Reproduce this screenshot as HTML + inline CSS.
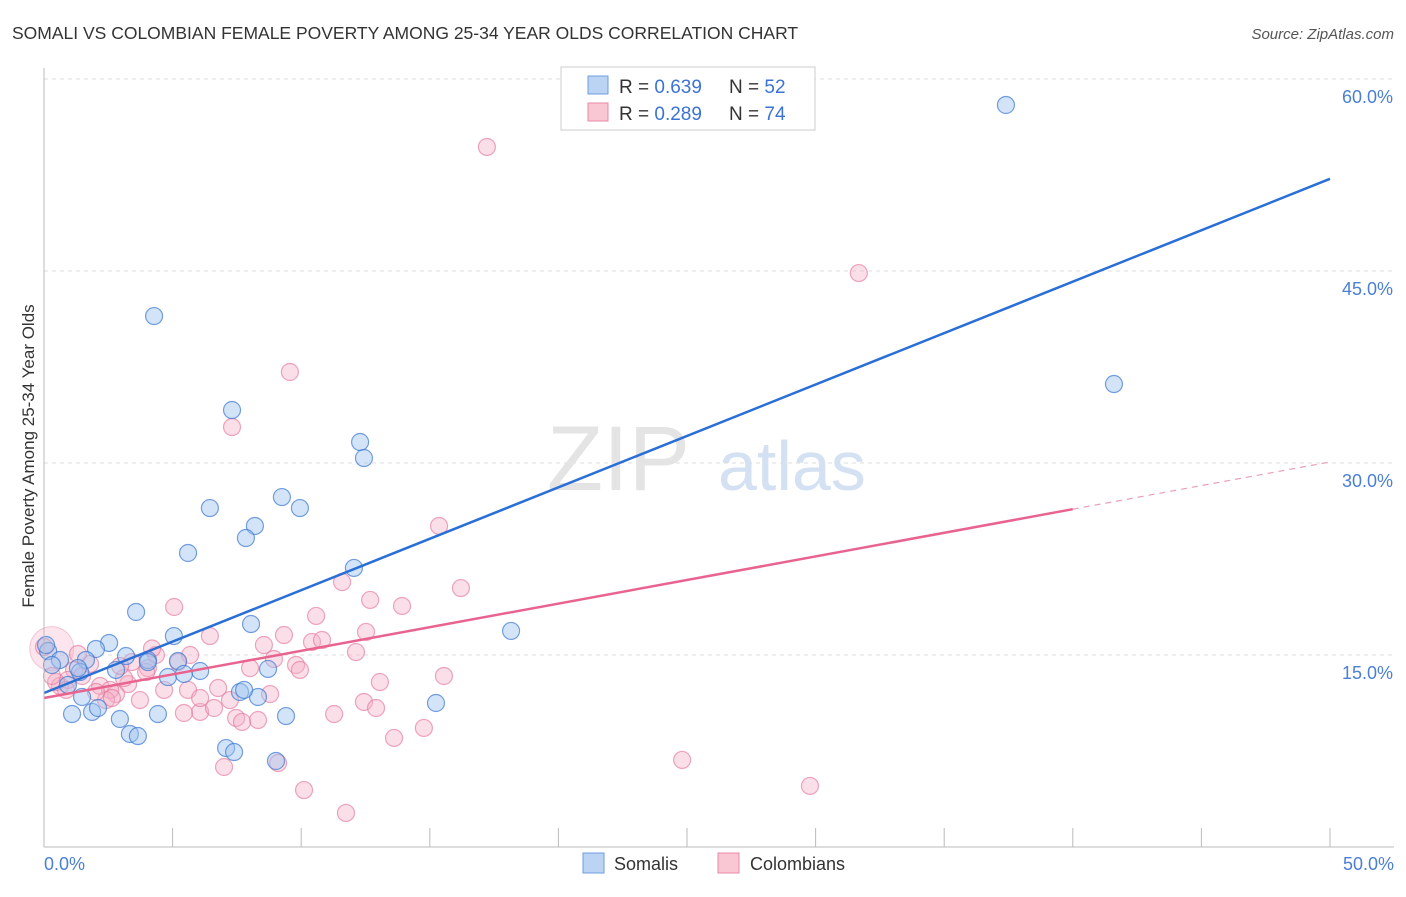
<!DOCTYPE html>
<html><head><meta charset="utf-8"><style>
body{margin:0;background:#fff;font-family:"Liberation Sans",sans-serif;}
svg text{font-family:"Liberation Sans",sans-serif;}
</style></head><body>
<svg id="chart" width="1406" height="892">
<text x="12" y="39" font-size="17.5" fill="#333">SOMALI VS COLOMBIAN FEMALE POVERTY AMONG 25-34 YEAR OLDS CORRELATION CHART</text>
<text x="1394" y="39" font-size="15" fill="#555" font-style="italic" text-anchor="end">Source: ZipAtlas.com</text>
<g id="grid"></g>
<text x="690" y="490" font-size="92" fill="#e4e4e4" text-anchor="end" font-family="Liberation Serif">ZIP</text>
<text x="718" y="490" font-size="70" fill="#d3e1f3">atlas</text>
<g id="marks"></g>
<line x1="44" y1="68" x2="44" y2="847" stroke="#bbb"/>
<line x1="44" y1="847" x2="1394" y2="847" stroke="#bbb"/>
<text transform="translate(34,456) rotate(-90)" font-size="17" fill="#333" text-anchor="middle">Female Poverty Among 25-34 Year Olds</text>
<text x="44" y="870" font-size="18" fill="#4a7fd6">0.0%</text>
<text x="1394" y="870" font-size="18" fill="#4a7fd6" text-anchor="end">50.0%</text>
<g>
<rect x="561" y="67" width="254" height="63" fill="#fff" stroke="#ccc"/>
<rect x="588" y="76" width="20" height="18" fill="#bcd4f4" stroke="#6c9de0"/>
<rect x="588" y="103" width="20" height="18" fill="#f9c6d4" stroke="#e989a6"/>
<text x="619" y="93" font-size="19" fill="#333">R = <tspan fill="#3b73d4">0.639</tspan></text>
<text x="729" y="93" font-size="19" fill="#333">N = <tspan fill="#3b73d4">52</tspan></text>
<text x="619" y="120" font-size="19" fill="#333">R = <tspan fill="#3b73d4">0.289</tspan></text>
<text x="729" y="120" font-size="19" fill="#333">N = <tspan fill="#3b73d4">74</tspan></text>
</g>
<g>
<rect x="583" y="853" width="21" height="20" fill="#bcd4f4" stroke="#6c9de0"/>
<text x="614" y="870" font-size="18" fill="#333">Somalis</text>
<rect x="718" y="853" width="21" height="20" fill="#f9c6d4" stroke="#e989a6"/>
<text x="750" y="870" font-size="18" fill="#333">Colombians</text>
</g>
</svg>
<script>
const yTicks=[15,30,45,60];
const yTickLabels=["15.0%","30.0%","45.0%","60.0%"];
const xTicks=[0,5,10,15,20,25,30,35,40,45,50];
const somaliX=[37.4,4.28,41.6,7.31,12.29,12.44,6.45,9.25,9.95,8.2,7.85,5.6,12.05,3.58,8.05,18.16,5.05,2.53,2.02,0.16,3.19,0.62,1.63,4.04,5.21,6.07,4.82,5.44,2.8,1.4,1.32,8.71,0.93,1.48,7.62,8.32,15.24,1.09,1.87,2.1,2.95,4.43,9.41,3.34,3.65,7.08,7.39,9.02,0.08,0.31,4.04,7.78];
const somaliY=[57.97,41.48,36.17,34.14,31.64,30.39,26.48,27.34,26.48,25.08,24.14,22.97,21.8,18.36,17.42,16.88,16.48,15.94,15.47,15.31,14.92,14.61,14.61,14.61,14.53,13.75,13.28,13.52,13.83,13.67,13.98,13.91,12.66,11.72,12.11,11.72,11.25,10.39,10.55,10.86,10.0,10.39,10.23,8.83,8.67,7.73,7.42,6.72,15.78,14.22,14.45,12.27];
const colX=[17.22,31.68,9.56,7.31,15.36,16.21,11.59,12.68,13.92,5.06,10.58,12.52,6.45,9.33,10.42,10.81,8.55,12.13,5.68,4.35,8.94,9.8,15.55,8.01,9.95,5.21,4.04,3.42,1.17,1.48,0.62,2.18,3.27,13.06,2.8,3.73,2.57,6.77,5.6,4.67,0.93,0.47,12.44,12.91,11.28,6.07,5.44,6.61,7.47,8.32,7.7,14.77,13.61,7.0,9.1,24.81,10.11,29.78,11.74,0,0.86,1.79,2.41,3.11,2.64,3.97,0.31,1.32,2.02,6.07,4.2,2.96,8.79,7.23];
const colY=[54.69,44.84,37.11,32.81,25.08,20.23,20.7,19.3,18.83,18.75,18.05,16.8,16.48,16.56,16.02,16.17,15.78,15.23,15.0,15.0,14.69,14.22,13.36,13.98,13.83,14.45,13.98,14.45,13.83,13.36,12.58,12.58,12.73,12.89,11.95,11.48,12.27,12.42,12.27,12.27,13.05,12.89,11.33,10.86,10.39,10.55,10.47,10.86,10.08,9.92,9.77,9.3,8.52,6.25,6.56,6.8,4.45,4.77,2.66,15.63,12.27,14.3,11.48,13.2,11.64,13.67,13.36,15.08,12.11,11.64,15.51,14.14,11.95,11.48];
const blueLine=[12.03,52.2];   // value at x=0 and x=50
const pinkLine=[11.64,30.08];
const pinkSolidEnd=40;
const NS="http://www.w3.org/2000/svg";
const X=v=>44+v*25.72, Y=v=>847-v*12.8;
function mk(t,a,p){const e=document.createElementNS(NS,t);for(const k in a)e.setAttribute(k,a[k]);p.appendChild(e);return e;}
const grid=document.getElementById('grid'),marks=document.getElementById('marks');
yTicks.forEach((v,i)=>{
 const l=mk('line',{x1:44,x2:1394,y1:Y(v),y2:Y(v),stroke:'#ddd','stroke-dasharray':'4,4'},grid);
 
 
 const t=mk('text',{x:1393,y:Y(v)+24,'font-size':18,fill:'#4a7fd6','text-anchor':'end'},grid);
 t.textContent=yTickLabels[i];
 
 
});
mk('line',{x1:44,x2:1394,y1:79,y2:79,stroke:'#ddd','stroke-dasharray':'4,4'},grid);
xTicks.forEach(v=>{
 const l=mk('line',{x1:X(v),x2:X(v),y1:828,y2:847,stroke:'#bbb'},grid);
 
 
});
mk('circle',{cx:X(0.3),cy:Y(15.5),r:22,fill:'rgba(245,170,195,0.3)',stroke:'rgba(230,130,165,0.4)'},marks);
colX.forEach((v,i)=>{
 const c=mk('circle',{cx:X(v),cy:Y(colY[i]),r:8.5,fill:'rgba(246,176,198,0.4)',stroke:'rgba(228,120,155,0.65)','stroke-width':1.2},marks);
 
 
});
somaliX.forEach((v,i)=>{
 const c=mk('circle',{cx:X(v),cy:Y(somaliY[i]),r:8.5,fill:'rgba(160,196,240,0.45)',stroke:'rgba(60,120,210,0.7)','stroke-width':1.2},marks);
 
 
});
const pv=x=>pinkLine[0]+(pinkLine[1]-pinkLine[0])*x/50;
let l1=mk('line',{x1:X(0),y1:Y(blueLine[0]),x2:X(50),y2:Y(blueLine[1]),stroke:'#2a6fd6','stroke-width':2.5},marks);


let l2=mk('line',{x1:X(0),y1:Y(pv(0)),x2:X(pinkSolidEnd),y2:Y(pv(pinkSolidEnd)),stroke:'#e8648f','stroke-width':2.5},marks);


let l3=mk('line',{x1:X(pinkSolidEnd),y1:Y(pv(pinkSolidEnd)),x2:X(50),y2:Y(pv(50)),stroke:'#e8a0b8','stroke-width':1.2,'stroke-dasharray':'6,5'},marks);


</script>
</body></html>
